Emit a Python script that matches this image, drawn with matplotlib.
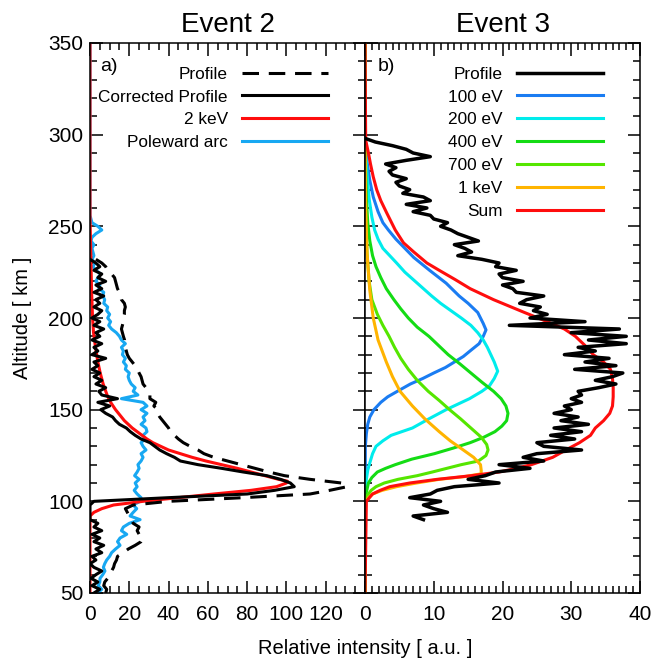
import numpy as np
import matplotlib
matplotlib.use("Agg")
import matplotlib.pyplot as plt
from matplotlib.ticker import MultipleLocator

plt.rcParams["font.family"] = ["Liberation Sans", "DejaVu Sans"]

# ---- Event 2: altitude profiles, 2 km steps ----
profile_a = [
    8, 8.5, 7, 7.5, 9, 10, 11, 12, 12.5, 13.5,
    14, 17, 19.5, 23, 26, 27, 25, 24, 25, 22,
    21, 20, 19, 18, 22, 40, 78, 112, 122, 131,
    128, 112, 99, 91, 84, 77, 70, 63, 58, 55,
    51, 47.5, 45, 43, 41, 40, 38.5, 37, 35.5, 34.5,
    34.5, 32.5, 33.5, 30.5, 30.5, 29, 28.5, 27, 26.5, 26,
    25, 24.2, 23, 21.5, 20, 19, 18.5, 18, 17.5, 17.6,
    17, 16.5, 16, 16.5, 17, 17, 17.5, 17.5, 18, 17.5,
    16, 15.5, 15, 14, 13.5, 13, 12.5, 11, 9, 8,
    6, 3,
]
corrected_a = [
    2, 5, 1, 4, 0.5, 3, 6, 2, 0, 3,
    1, 6, 3, 7, 2, 5, 1, 6, 2, 4,
    0, 0, 0, 0, 0, 2, 40, 80, 94, 104,
    102, 97, 90, 78, 67, 55, 46, 43, 39, 35.5,
    33, 30.5, 26, 23, 20.5, 18.5, 15, 13, 11.5, 8,
    5.5, 10, 4, 14, 6, 4.5, 8, 3, 6, 2,
    5, 1, 4, 2, 8, 1, 4, 2, 6, 1,
    5, 3, 7, 2, 5, 1, 4, 6, 2, 5,
    3, 7, 2, 6, 3, 8, 4, 6, 2, 5,
    3, 0,
]
alt_profile_a = 50 + 2 * np.arange(len(profile_a))

poleward_a = [
    4, 6, 4.2, 5, 5.1, 6.5, 7.6, 6.8, 7.5, 8.5,
    10, 11, 13, 15.3, 14, 15.3, 18.7, 16, 17, 20,
    25.5, 20.4, 22, 23.8, 22, 25.5, 26, 24, 22.5, 24,
    23, 25, 22.7, 24, 25, 24.4, 26, 27, 26, 28.5,
    27, 26, 28, 27, 29, 28.5, 26, 28, 27, 29,
    26, 29, 27, 16, 24.4, 22, 23, 21, 20, 19.4,
    20, 18, 18.5, 17, 18, 16.5, 17, 16, 18, 16,
    15, 13.4, 11, 9.5, 10.5, 9, 10, 8.5, 9, 7,
    7.5, 6.5, 7, 4.5, 5, 3, 4, 5.5, 3, 1.5,
    2.5, 1, 2, 1.5, 1, 2, 0.5, 1, 3, 6,
    4, 1, 0.5, 0, 0,
]
alt_poleward_a = np.r_[50 + 2 * np.arange(len(poleward_a) - 1), 350]

alt_kev2 = [50, 92, 94, 96, 98, 100, 102, 104, 106, 108,
            110, 111, 112, 114, 116, 118, 120, 122, 124, 126,
            128, 130, 132, 134, 136, 138, 140, 142, 144, 146,
            150, 154, 158, 164, 170, 176, 184, 192, 200, 215,
            230, 245, 255, 350]
kev2 = [0, 0, 2, 6, 12, 27, 45, 63, 82, 95,
        100, 100.5, 96, 89, 82, 75, 67, 59, 52, 46,
        40, 36, 32, 29, 26.5, 24, 21.5, 19.5, 17.5, 16,
        13, 10.5, 8.7, 6.7, 5.2, 4, 2.8, 1.8, 1.3, 0.8,
        0.5, 0.2, 0, 0]

# ---- Event 3: measured profile (2 km steps from 90 km) and model curves ----
profile_b = [
    8.5, 7.0, 12.0, 10.0, 8.5, 11.0, 6.5, 9.5, 10.5, 13.0,
    19.5, 15.0, 17.5, 19.0, 24.0, 19.5, 26.0, 23.0, 25.0, 31.5,
    26.0, 25.0, 30.5, 27.0, 31.5, 27.5, 32.5, 28.5, 31.0, 27.5,
    30.0, 29.0, 31.5, 30.0, 31.5, 31.0, 34.0, 36.5, 33.5, 36.0,
    37.5, 30.5, 36.5, 32.0, 35.5, 29.0, 33.5, 31.0, 38.0, 32.5,
    38.0, 30.0, 37.0, 21.0, 32.0, 24.0, 26.5, 24.5, 25.5, 22.5,
    23.5, 26.0, 22.0, 21.5, 20.0, 23.0, 20.0, 19.5, 22.0, 19.0,
    19.5, 17.0, 13.5, 15.5, 14.5, 13.0, 16.5, 15.0, 13.5, 12.5,
    11.0, 12.0, 10.0, 9.5, 7.0, 9.0, 6.0, 9.5, 8.5, 5.5,
    6.5, 5.0, 4.5, 6.0, 4.0, 3.5, 4.5, 3.0, 6.0, 9.5,
    7.0, 6.0, 4.0, 1.5, 0.0,
]
alt_profile_b = 90 + 2 * np.arange(len(profile_b))

alt_100ev = [50, 130, 137, 142, 146, 150, 154, 157, 160, 164,
             167, 170, 173, 176, 179, 183, 186, 190, 193.5, 197,
             203, 208, 212, 219, 226, 233, 238, 243, 248, 252,
             258, 266, 275, 285, 297, 350]
ev100 = [0, 0.05, 0.2, 0.4, 0.7, 1.3, 2.3, 3.3, 4.7, 6.6,
         8.4, 10, 11.7, 13, 14.3, 15.6, 16.6, 17.2, 17.6, 17.2,
         16.4, 15, 13.7, 11.8, 9.4, 7.1, 5.8, 4.5, 3.4, 2.6,
         1.9, 1.2, 0.7, 0.3, 0.05, 0]

alt_200ev = [50, 105, 112, 117, 121, 126, 130, 133, 136, 140,
             145, 150, 156, 160, 163, 167, 171, 176, 180, 184,
             188, 192, 196, 200, 204, 208, 212, 216, 221, 225,
             230, 234, 238, 243, 248, 255, 265, 278, 290, 297,
             350]
ev200 = [0, 0, 0.2, 0.4, 0.7, 1.1, 1.6, 2.6, 3.8, 6.9,
         9.3, 11.8, 15.2, 17.0, 18.1, 18.8, 19.3, 18.8, 18.3, 17.8,
         17.2, 16.4, 15.4, 14.0, 12.5, 11.0, 9.7, 8.5, 7.0, 5.8,
         4.6, 3.6, 2.6, 1.9, 1.4, 1.0, 0.6, 0.3, 0.1, 0,
         0]

alt_400ev = [50, 100, 105, 110, 113, 116, 118, 120, 123, 126,
             129, 132, 135, 138, 141, 144, 148, 152, 156, 160,
             165, 170, 175, 180, 185, 190, 195, 200, 205, 210,
             216, 222, 228, 234, 242, 252, 265, 280, 297, 350]
ev400 = [0, 0, 0.2, 0.5, 1.0, 1.8, 3.0, 4.4, 6.8, 10.1,
         12.8, 15.3, 17.3, 18.9, 19.9, 20.6, 20.8, 20.5, 19.8, 18.7,
         17.0, 15.4, 13.8, 12.1, 10.7, 9.3, 7.6, 6.3, 5.2, 4.2,
         3.1, 2.3, 1.6, 1.1, 0.7, 0.4, 0.2, 0.1, 0, 0]

alt_700ev = [50, 100, 103, 106, 108, 110, 112, 114, 116, 118,
             120, 122, 125, 128, 131, 135, 140, 145, 150, 155,
             160, 166, 172, 178, 184, 190, 196, 202, 210, 220,
             235, 255, 280, 297, 350]
ev700 = [0, 0, 0.3, 0.9, 1.6, 2.8, 4.8, 7.6, 9.8, 11.9,
         14.0, 16.5, 17.6, 17.9, 17.7, 16.9, 15.4, 13.9, 12.3, 10.8,
         9.2, 7.6, 6.3, 5.2, 4.3, 3.5, 2.6, 1.8, 1.0, 0.6,
         0.3, 0.1, 0.05, 0, 0]

alt_1kev = [50, 99, 102, 104, 106, 108, 110, 112, 113.5, 115,
            117, 120, 124, 128, 133, 138, 145, 152, 160, 168,
            176, 188, 200, 215, 235, 260, 297, 350]
kev1 = [0, 0, 0.5, 1.1, 2.5, 4.6, 7.5, 10.8, 14.5, 16.9,
        16.9, 16.8, 15.8, 14.3, 12.4, 10.8, 8.7, 6.9, 5.1, 4.0,
        3.1, 1.9, 1.2, 0.7, 0.3, 0.1, 0, 0]

alt_sum = [50, 100, 104, 106, 108, 110, 112, 114, 116, 118,
           120, 124, 128, 132, 136, 140, 144, 148, 152, 157,
           162, 167, 172, 176, 180, 185, 190, 194, 198, 203,
           210, 216, 221, 226, 230, 236, 241, 248, 257, 264,
           270, 277, 284, 290, 297, 350]
model_sum = [0, 0.2, 1.1, 2.2, 3.6, 6.5, 10.5, 15.5, 19.5, 22,
             24.2, 27.3, 29.2, 31.2, 32.8, 33.5, 34.7, 35.6, 36, 36.1,
             36.1, 36, 35.7, 34.7, 33.2, 32, 30.6, 29, 26.5, 23.2,
             18.7, 15.3, 13.1, 10.8, 9, 7.1, 5.6, 4.4, 3.2, 2.3,
             1.7, 1.2, 0.8, 0.5, 0.1, 0]

W, H = 653, 660
fig = plt.figure(figsize=(W / 100, H / 100), dpi=100)
ax1 = fig.add_axes([90 / W, 67 / H, 275 / W, 550 / H])
ax2 = fig.add_axes([365 / W, 67 / H, 275 / W, 550 / H])

lw = 2.2
ax1.plot(poleward_a, alt_poleward_a, color="#18a8f2", lw=lw, label="Poleward arc")
ax1.plot(kev2, alt_kev2, color="#ff0d0d", lw=lw, label="2 keV")
ax1.plot(profile_a, alt_profile_a, color="black", lw=lw, dashes=(5.4, 3.2), label="Profile")
ax1.plot(corrected_a, alt_profile_a, color="black", lw=lw, label="Corrected Profile")

ax2.plot(ev100, alt_100ev, color="#1a7cf2", lw=lw, label="100 eV")
ax2.plot(ev200, alt_200ev, color="#00ecec", lw=lw, label="200 eV")
ax2.plot(ev400, alt_400ev, color="#14dc14", lw=lw, label="400 eV")
ax2.plot(ev700, alt_700ev, color="#55e600", lw=lw, label="700 eV")
ax2.plot(kev1, alt_1kev, color="#ffb400", lw=lw, label="1 keV")
ax2.plot(model_sum, alt_sum, color="#ff0d0d", lw=lw, label="Sum")
ax2.plot(profile_b, alt_profile_b, color="black", lw=2.5, label="Profile")

ax1.set_xlim(0, 140)
ax2.set_xlim(0, 40)
ax1.set_xticks(np.arange(0, 140, 20))
ax1.xaxis.set_minor_locator(MultipleLocator(5))
ax2.xaxis.set_major_locator(MultipleLocator(10))
ax2.xaxis.set_minor_locator(MultipleLocator(1))

for ax in (ax1, ax2):
    ax.set_ylim(50, 350)
    ax.yaxis.set_major_locator(MultipleLocator(50))
    ax.yaxis.set_minor_locator(MultipleLocator(10))
    ax.tick_params(which="both", direction="in", top=True, right=True, width=1.1,
                   labelsize=15)
    ax.tick_params(which="major", length=9)
    ax.tick_params(which="minor", length=5)
    ax.tick_params(axis="x", pad=8.5)
    ax.tick_params(axis="y", pad=5)
    for s in ax.spines.values():
        s.set_linewidth(1.1)
ax2.tick_params(labelleft=False)

ax1.set_title("Event 2", fontsize=20, pad=8)
ax2.set_title("Event 3", fontsize=20, pad=8)
ax1.set_ylabel("Altitude [ km ]", fontsize=14.5)
ax1.yaxis.set_label_coords(-0.21, 0.5)
fig.text(365 / W, 1 - 648 / H, "Relative intensity [ a.u. ]", fontsize=14.5,
         ha="center", va="center")

ax1.text(0.036, 0.958, "a)", transform=ax1.transAxes, fontsize=14, va="center")
ax2.text(0.047, 0.958, "b)", transform=ax2.transAxes, fontsize=14, va="center")

leg_kw = dict(loc="upper right", bbox_to_anchor=(0.867, 0.957), markerfirst=False,
              frameon=False, fontsize=12.4, handlelength=5.0, handletextpad=0.85,
              labelspacing=0.45, borderpad=0, borderaxespad=0)
h1, l1 = ax1.get_legend_handles_labels()
order1 = [l1.index(n) for n in ["Profile", "Corrected Profile", "2 keV", "Poleward arc"]]
ax1.legend([h1[i] for i in order1], [l1[i] for i in order1], **leg_kw)
h2, l2 = ax2.get_legend_handles_labels()
order2 = [l2.index(n) for n in ["Profile", "100 eV", "200 eV", "400 eV", "700 eV", "1 keV", "Sum"]]
ax2.legend([h2[i] for i in order2], [l2[i] for i in order2], **leg_kw)

fig.savefig("out.png", dpi=100)
